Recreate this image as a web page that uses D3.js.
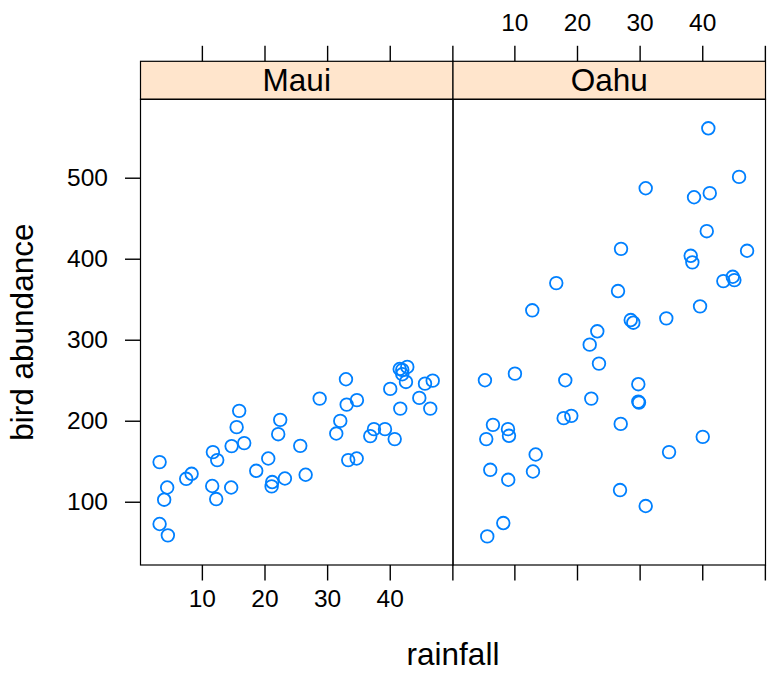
<!DOCTYPE html>
<html>
<head>
<meta charset="utf-8">
<script src="https://cdn.jsdelivr.net/npm/d3@7"></script>
<style>
  body { margin: 0; background: #fff; }
  svg { display: block; font-family: "Liberation Sans", Arial, Helvetica, sans-serif; }
</style>
</head>
<body>
<div id="chart"></div>
<script>
// dados (rainfall x bird abundance)
const panelNames = ["Maui", "Oahu"];
const xTicks = [10, 20, 30, 40, 50];
const xLabels = [10, 20, 30, 40];
const yTicks = [100, 200, 300, 400, 500];

const mauiRain = [3.25, 4.46, 3.98, 3.25, 4.57, 7.5, 8.36, 11.76, 12.45, 11.65, 12.29, 14.68,
  14.75, 15.55, 15.96, 16.76, 18.68, 20.6, 21.14, 21.23, 22.51, 22.19, 23.26, 25.71, 26.57,
  28.81, 33.01, 33.12, 34.76, 32.1, 31.46, 33.37, 34.72, 36.89, 37.48, 39.24, 40.79, 40.08,
  41.68, 41.59, 42.0, 42.8, 42.0, 42.59, 44.72, 45.63, 46.86, 46.47];
const mauiBirds = [148.9, 117.6, 102.5, 72.5, 58.5, 128.3, 134.5, 161.3, 151.4, 119.4, 103.3, 117.6,
  168.7, 192.1, 212.2, 172.4, 138.2, 153.4, 118.9, 124.3, 201.1, 183.4, 128.7, 169.0, 133.3,
  227.3, 251.2, 219.9, 225.4, 199.8, 184.2, 151.4, 153.4, 181.0, 189.6, 189.6, 177.3, 239.3,
  215.0, 263.9, 262.7, 266.4, 257.4, 247.9, 228.2, 245.8, 249.5, 215.0];

const oahuRain = [22.03, 23.51, 5.3, 10.09, 18.13, 22.28, 17.87, 19.09, 6.58, 8.98, 9.14, 5.51,
  13.4, 12.97, 6.15, 9.02, 8.23, 5.67, 29.79, 29.79, 29.9, 26.98, 34.7, 40.08, 26.87, 30.97,
  16.69, 12.86, 23.24, 40.97, 45.88, 30.97, 38.69, 41.2, 40.72, 27.03, 38.16, 38.42, 47.16,
  43.37, 44.87, 45.13, 26.55, 39.65, 28.58, 28.99, 34.26];
const oahuBirds = [293.9, 270.5, 250.0, 258.1, 250.0, 227.3, 203.2, 206.0, 194.9, 189.6, 181.4, 177.3,
  158.3, 137.3, 139.4, 127.1, 73.7, 57.2, 245.1, 223.6, 222.4, 196.1, 161.3, 180.1, 114.4, 94.7,
  369.9, 336.3, 310.4, 561.0, 501.0, 487.0, 475.9, 480.9, 434.0, 412.2, 403.6, 395.5, 409.8,
  372.4, 377.7, 373.6, 360.1, 341.2, 324.3, 321.0, 326.4];

const W = 767, H = 673;
const panelLeft = 140.5, panelW = 312.5;
const stripTop = 61.3, panelTop = 99.3, panelBottom = 565;
const tickLen = 15.5;

const svg = d3.select("#chart").append("svg")
  .attr("width", W).attr("height", H)
  .attr("viewBox", [0, 0, W, H]);

svg.append("rect").attr("width", W).attr("height", H).attr("fill", "#fff");

const x = d3.scaleLinear().domain([0.2, 50.1]).range([0, panelW]);
const y = d3.scaleLinear().domain([21.9, 596.8]).range([panelBottom, panelTop]);

const panelData = [
  d3.zip(mauiRain, mauiBirds),
  d3.zip(oahuRain, oahuBirds)
];

panelNames.forEach((name, i) => {
  const g = svg.append("g").attr("transform", `translate(${panelLeft + i * panelW},0)`);

  // faixa do título
  g.append("rect")
    .attr("x", 0).attr("y", stripTop)
    .attr("width", panelW).attr("height", panelTop - stripTop)
    .attr("fill", "#ffe5cc").attr("stroke", "#000").attr("stroke-width", 1.2);
  g.append("text")
    .attr("x", panelW / 2).attr("y", (stripTop + panelTop) / 2 + 11)
    .attr("text-anchor", "middle")
    .attr("font-size", 31.5)
    .text(name);

  // pontos
  g.append("g").selectAll("circle")
    .data(panelData[i])
    .join("circle")
    .attr("cx", d => x(d[0]))
    .attr("cy", d => y(d[1]))
    .attr("r", 6.3)
    .attr("fill", "none")
    .attr("stroke", "#0080ff")
    .attr("stroke-width", 1.8);

  // caixa do painel
  g.append("rect")
    .attr("x", 0).attr("y", panelTop)
    .attr("width", panelW).attr("height", panelBottom - panelTop)
    .attr("fill", "none").attr("stroke", "#000").attr("stroke-width", 1.2);

  // eixo de baixo (rótulos só no painel 1) e de cima (rótulos só no painel 2)
  const fmtBottom = v => (i === 0 && xLabels.includes(v)) ? v : "";
  const fmtTop = v => (i === 1 && xLabels.includes(v)) ? v : "";

  const axB = g.append("g")
    .attr("transform", `translate(0,${panelBottom})`)
    .call(d3.axisBottom(x).tickValues(xTicks).tickSize(tickLen).tickPadding(9).tickFormat(fmtBottom));
  const axT = g.append("g")
    .attr("transform", `translate(0,${stripTop})`)
    .call(d3.axisTop(x).tickValues(xTicks).tickSize(tickLen).tickPadding(14.5).tickFormat(fmtTop));

  [axB, axT].forEach(a => {
    a.select(".domain").remove();
    a.selectAll("line").attr("stroke", "#000").attr("stroke-width", 1.4);
    a.selectAll("text").attr("font-size", 24.5).attr("fill", "#000")
      .attr("font-family", "Liberation Sans, Arial, sans-serif");
  });
});

// eixo y
const axY = svg.append("g")
  .attr("transform", `translate(${panelLeft},0)`)
  .call(d3.axisLeft(y).tickValues(yTicks).tickSize(tickLen).tickPadding(17));
axY.select(".domain").remove();
axY.selectAll("line").attr("stroke", "#000").attr("stroke-width", 1.4);
axY.selectAll("text").attr("font-size", 24.5).attr("fill", "#000")
  .attr("font-family", "Liberation Sans, Arial, sans-serif");

// títulos dos eixos
svg.append("text")
  .attr("x", panelLeft + panelW).attr("y", 665)
  .attr("text-anchor", "middle")
  .attr("font-size", 31.5)
  .text("rainfall");

svg.append("text")
  .attr("transform", `translate(33,${(panelTop + panelBottom) / 2}) rotate(-90)`)
  .attr("text-anchor", "middle")
  .attr("font-size", 31.5)
  .text("bird abundance");
</script>
</body>
</html>
